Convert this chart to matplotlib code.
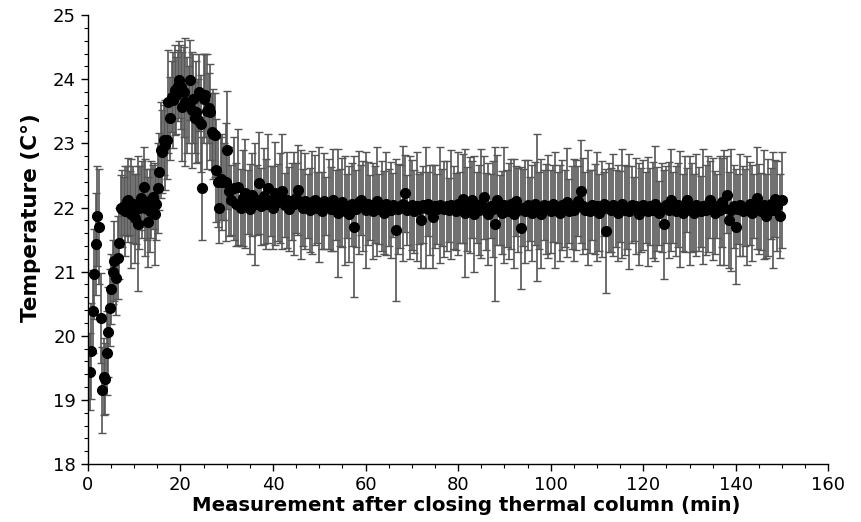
import numpy as np
import matplotlib
matplotlib.use('Agg')
import matplotlib.pyplot as plt
from matplotlib.ticker import MultipleLocator

# warm-up phase, sampled every 20 s starting at 0.4 min
temp_early = [
    19.44, 19.76, 20.38, 20.96, 21.43, 21.87, 21.70, 20.28, 19.16, 19.36,
    19.33, 19.73, 20.06, 20.44, 20.73, 21.00, 21.17, 20.90, 21.22, 21.44,
    22.00, 21.98, 22.02, 21.95, 22.10, 22.12, 22.07, 21.90, 22.05, 21.83,
    21.98, 21.75, 22.00, 22.15, 22.12, 22.32, 22.00, 22.05, 21.78, 21.95,
    22.12, 22.17, 21.90, 22.05, 22.30, 22.56, 22.90, 22.87, 23.05, 22.97,
    23.05, 23.65, 23.39, 23.73, 23.68, 23.83, 23.75, 23.90, 23.99, 23.88,
    23.57, 23.80, 23.65, 23.60, 23.60, 23.99, 23.52, 23.70, 23.40, 23.49,
    23.36, 23.80, 23.31, 22.30, 23.70, 23.75, 23.50, 23.55, 23.49, 23.18,
    23.15, 23.13, 22.58, 22.40, 22.00, 22.45, 22.40, 22.40, 22.40,
]
err_early = [
    0.60, 0.75, 0.65, 0.70, 0.80, 0.78, 0.90, 0.70, 0.67, 0.60,
    0.55, 0.65, 0.70, 0.60, 0.55, 0.50, 0.62, 0.58, 0.65, 0.55,
    0.50, 0.60, 0.45, 0.70, 0.55, 0.65, 0.50, 0.85, 0.60, 0.70,
    0.55, 1.05, 0.65, 0.50, 0.60, 0.62, 0.75, 0.55, 0.70, 0.65,
    0.60, 0.50, 0.80, 0.55, 0.70, 0.60, 0.75, 0.65, 0.55, 0.70,
    0.60, 0.80, 0.65, 0.55, 0.75, 0.70, 0.60, 0.55, 0.60, 0.65,
    0.85, 0.70, 1.00, 0.75, 0.60, 0.62, 0.90, 0.70, 0.55, 0.80,
    0.65, 0.60, 0.75, 0.80, 0.70, 0.65, 0.90, 0.55, 0.75, 0.60,
    0.70, 0.65, 0.80, 0.70, 0.55, 0.65, 0.75, 0.60, 0.92,
]

# steady phase, sampled every 30 s from 30 min
temp_late = [
    22.90, 22.25, 22.12, 22.30, 22.05, 22.32, 22.00, 22.15, 22.22, 22.08,
    21.98, 22.20, 22.05, 22.12, 22.38, 22.02, 22.18, 22.06, 22.30, 22.10,
    22.00, 22.22, 22.08, 22.15, 22.25, 22.04, 22.12, 21.98, 22.10, 22.06,
    22.15, 22.27, 22.05, 22.00, 22.10, 22.02, 21.96, 22.08, 22.12, 22.00,
    22.05, 21.95, 22.10, 22.02, 22.06, 21.98, 22.12, 22.04, 21.92, 22.00,
    22.08, 21.95, 22.02, 21.90, 22.05, 21.70, 21.98, 22.08, 22.12, 22.02,
    21.96, 22.06, 22.00, 21.94, 22.04, 22.10, 21.98, 22.02, 21.92, 22.06,
    22.00, 21.96, 22.04, 21.65, 21.98, 22.02, 22.06, 22.22, 21.96, 22.00,
    22.04, 21.94, 22.02, 21.98, 21.81, 22.04, 22.00, 22.06, 21.96, 21.86,
    22.02, 21.98, 22.04, 22.00, 21.98, 22.02, 21.96, 22.04, 22.00, 21.94,
    22.06, 22.00, 22.14, 21.92, 21.98, 22.04, 22.12, 21.90, 22.00, 21.96,
    22.06, 22.16, 21.94, 21.90, 22.02, 21.98, 21.75, 22.12, 21.96, 21.92,
    22.04, 21.98, 21.94, 22.06, 21.90, 22.10, 21.96, 21.68, 22.00, 21.94,
    22.04, 21.98, 21.92, 22.06, 22.00, 21.96, 21.90, 22.04, 21.98, 22.02,
    21.94, 22.06, 21.96, 22.00, 21.92, 22.04, 21.98, 22.08, 21.94, 22.00,
    21.96, 22.04, 22.10, 22.25, 22.02, 21.96, 22.00, 21.94, 22.04, 21.98,
    22.02, 21.92, 21.98, 22.06, 21.63, 22.00, 21.96, 22.04, 21.98, 21.92,
    22.02, 22.06, 21.96, 22.00, 21.94, 22.04, 21.98, 22.02, 21.90, 21.96,
    22.04, 22.00, 21.94, 22.02, 21.96, 22.06, 21.98, 21.92, 22.00, 21.74,
    22.04, 21.96, 22.12, 22.00, 21.94, 22.04, 21.98, 21.92, 22.06, 22.12,
    21.96, 22.00, 21.92, 22.04, 21.98, 21.94, 22.02, 21.96, 22.06, 22.12,
    21.98, 21.92, 22.02, 21.96, 22.08, 22.00, 22.20, 21.80, 21.96, 22.02,
    21.70, 21.98, 22.04, 21.94, 22.00, 21.96, 22.06, 21.92, 22.02, 22.15,
    21.98, 21.94, 22.04, 21.87, 22.00, 22.06, 21.96, 22.14, 22.02, 21.87,
    22.12,
]
err_late = [
    0.92, 0.70, 0.55, 0.80, 0.65, 0.90, 0.60, 0.75, 0.85, 0.50,
    0.70, 0.65, 0.95, 0.55, 0.80, 0.60, 0.75, 0.70, 0.85, 0.55,
    0.65, 0.80, 0.60, 0.70, 0.90, 0.50, 0.75, 0.65, 0.60, 0.80,
    0.55, 0.70, 0.85, 0.60, 0.75, 0.50, 0.65, 0.80, 0.70, 0.55,
    0.90, 0.60, 0.75, 0.45, 0.70, 0.65, 0.80, 0.55, 1.00, 0.60,
    0.70, 0.85, 0.50, 0.75, 0.65, 1.10, 0.60, 0.80, 0.55, 0.70,
    0.90, 0.65, 0.50, 0.75, 0.60, 0.85, 0.55, 0.70, 0.65, 0.80,
    0.60, 0.75, 0.50, 1.10, 0.70, 0.65, 0.90, 0.60, 0.55, 0.80,
    0.70, 0.65, 0.85, 0.55, 0.75, 0.60, 0.95, 0.50, 0.70, 0.80,
    0.65, 0.55, 0.90, 0.60, 0.75, 0.70, 0.50, 0.85, 0.65, 0.60,
    0.80, 0.55, 0.70, 1.00, 0.65, 0.75, 0.60, 0.90, 0.55, 0.70,
    0.85, 0.65, 0.60, 0.80, 0.50, 0.75, 1.20, 0.70, 0.55, 0.65,
    0.90, 0.60, 0.75, 0.70, 0.85, 0.55, 0.65, 0.95, 0.60, 0.80,
    0.70, 0.50, 0.75, 0.65, 1.15, 0.60, 0.85, 0.55, 0.70, 0.80,
    0.65, 0.60, 0.90, 0.55, 0.75, 0.70, 0.60, 0.85, 0.50, 0.65,
    0.80, 0.70, 0.55, 0.80, 0.75, 0.60, 0.90, 0.65, 0.55, 0.70,
    0.85, 0.60, 0.75, 0.50, 0.97, 0.70, 0.65, 0.80, 0.60, 0.75,
    0.55, 0.85, 0.70, 0.65, 0.90, 0.60, 0.50, 0.75, 0.80, 0.65,
    0.70, 0.55, 0.85, 0.60, 0.75, 0.90, 0.65, 0.50, 0.70, 0.85,
    0.60, 0.75, 0.80, 0.55, 0.70, 0.65, 0.90, 0.60, 0.75, 0.50,
    0.85, 0.70, 0.60, 0.80, 0.65, 0.55, 0.90, 0.70, 0.75, 0.60,
    0.80, 0.65, 0.50, 0.85, 0.70, 0.90, 0.60, 0.75, 0.95, 0.65,
    0.90, 0.55, 0.80, 0.70, 0.60, 0.85, 0.65, 0.75, 0.50, 0.80,
    0.70, 0.60, 0.85, 0.65, 0.75, 0.55, 0.90, 0.60, 0.70, 0.65,
    0.75,
]

t_early = 0.4 + np.arange(len(temp_early)) / 3
t_late = 30 + np.arange(len(temp_late)) * 0.5
minutes = np.concatenate([t_early, t_late])
temps = np.array(temp_early + temp_late)
errs = np.array(err_early + err_late)

plt.rcParams['font.family'] = ['DejaVu Sans']

fig = plt.figure(figsize=(8.62, 5.22), dpi=100)
ax = fig.add_axes([0.102, 0.111, 0.859, 0.860])

ax.errorbar(minutes, temps, yerr=errs, fmt='none', ecolor='#555555',
            elinewidth=1.2, capsize=3, capthick=1.0, zorder=2)
ax.plot(minutes, temps, 'o', color='black', markersize=7, zorder=3)

ax.set_xlim(0, 160)
ax.set_ylim(18, 25)
ax.xaxis.set_major_locator(MultipleLocator(20))
ax.xaxis.set_minor_locator(MultipleLocator(5))
ax.yaxis.set_major_locator(MultipleLocator(1))
ax.yaxis.set_minor_locator(MultipleLocator(0.2))

for side in ('top', 'right'):
    ax.spines[side].set_visible(False)
for side in ('left', 'bottom'):
    ax.spines[side].set_linewidth(1.0)

ax.tick_params(which='major', direction='out', length=5, width=1, labelsize=13)
ax.tick_params(which='minor', direction='out', length=3, width=0.8)

ax.set_xlabel('Measurement after closing thermal column (min)', fontsize=14.2,
              fontweight='bold')
ax.set_ylabel('Temperature (C°)', fontsize=15.5, fontweight='bold')
ax.xaxis.set_label_coords(0.511, -0.072)
ax.yaxis.set_label_coords(-0.063, 0.55)

fig.savefig('out.png', dpi=100, facecolor='white')
